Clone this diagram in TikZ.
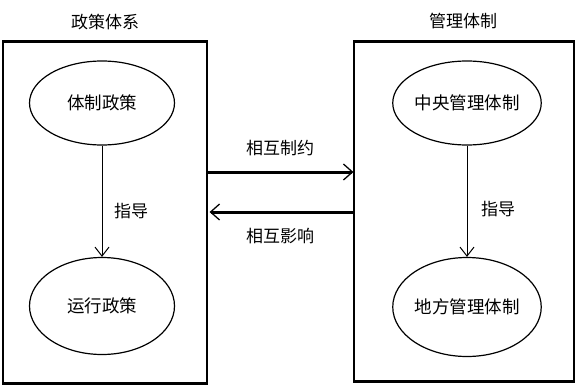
\documentclass[tikz,border=0pt]{standalone}
\usepackage{fontspec}
\setmainfont{Noto Sans CJK SC}
\usetikzlibrary{shapes.geometric,arrows.meta}
\begin{document}
\begin{tikzpicture}[x=1pt,y=-1pt,
  ell/.style={draw,ellipse,line width=1.2pt,minimum width=145pt,inner sep=0pt,font=\fontsize{17.5}{19}\selectfont},
  frame/.style={draw,line width=1.2pt,inner sep=0pt},
  lbl/.style={font=\fontsize{17}{19}\selectfont},
  thin arrow/.style={line width=1pt,-{Straight Barb[length=9pt,width=14pt,line width=1pt]}},
  thick arrow/.style={line width=3pt,-{Straight Barb[length=9pt,width=16pt,line width=1.3pt]}}]
\useasboundingbox (0,0) rectangle (581,388);
\fill[white] (0,0) rectangle (581,388);
% frames
\node[frame,minimum width=204pt,minimum height=341pt] (lbox) at (105,212.5) {};
\node[frame,minimum width=220pt,minimum height=339pt] (rbox) at (464,211.5) {};
\draw[line width=3pt] (lbox.north west) -- (lbox.north east);
\draw[line width=3pt] (lbox.south west) -- (lbox.south east);
\draw[line width=3pt] (rbox.north west) -- (rbox.north east);
\draw[line width=3pt] (rbox.south west) -- (rbox.south east);
% titles
\node[lbl] (ltitle) at (105,22) {政策体系};
\node[lbl] (rtitle) at (463,21) {管理体制};
% ellipses
\node[ell,minimum height=84pt] (e1) at (102,103) {体制政策};
\node[ell,minimum height=97pt] (e2) at (102,306) {运行政策};
\node[ell,minimum width=148pt,minimum height=84pt] (e3) at (467,103) {中央管理体制};
\node[ell,minimum width=148pt,minimum height=99pt] (e4) at (467,307) {地方管理体制};
% vertical arrows
\draw[thin arrow] (e1.south) -- (e2.north);
\draw[thin arrow] (e3.south) -- (e4.north);
\node[lbl] (g1) at (131,211) {指导};
\node[lbl] (g2) at (498,209) {指导};
% horizontal arrows
\coordinate (a1s) at (lbox.east |- 0,172);
\coordinate (a1e) at (rbox.west |- 0,172);
\coordinate (a2s) at (rbox.west |- 0,212);
\coordinate (a2e) at ([xshift=2pt]lbox.east |- 0,212);
\draw[thick arrow] (a1s) -- (a1e);
\draw[thick arrow] (a2s) -- (a2e);
\node[lbl] (t1) at (280,148) {相互制约};
\node[lbl] (t2) at (280,236) {相互影响};
\end{tikzpicture}
\end{document}
